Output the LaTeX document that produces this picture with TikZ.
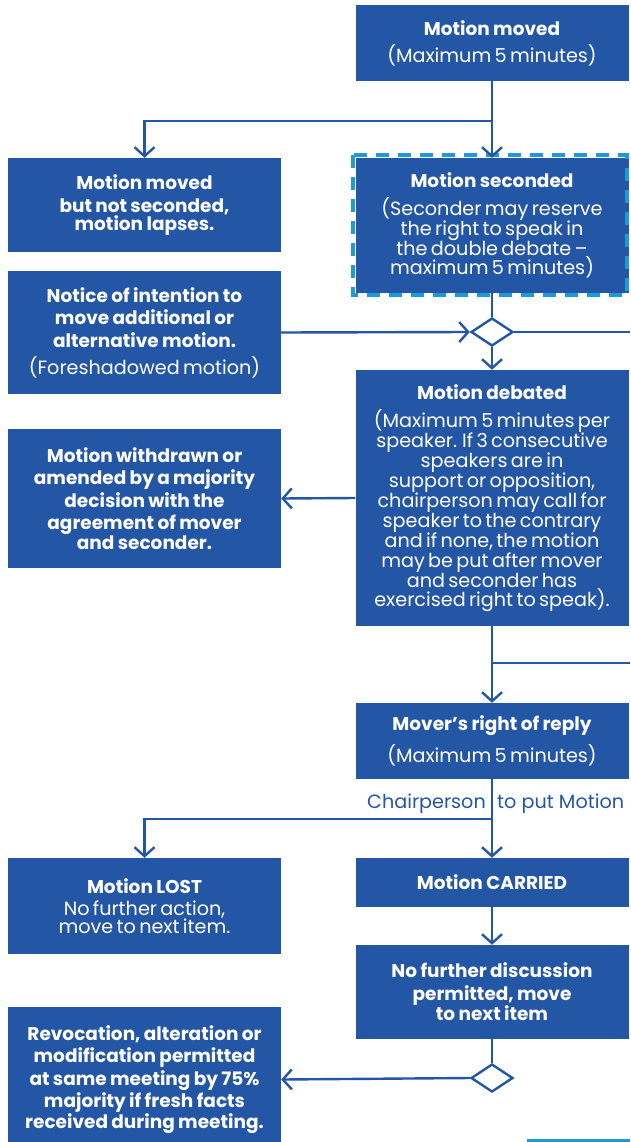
\documentclass[tikz,border=0pt]{standalone}
\usepackage{fontspec}
\setmainfont{Poppins}
\usetikzlibrary{positioning,shapes.geometric,arrows.meta}
\definecolor{mblue}{RGB}{36,86,166}
\definecolor{mcyan}{RGB}{30,155,215}
\newcommand{\headf}{\fontsize{18.5}{22.5}\selectfont\bfseries}
\newcommand{\bodyf}{\fontsize{19.2}{20}\selectfont\mdseries}
\newcommand{\gap}{\par\vspace{8pt}}

\begin{document}
\begin{tikzpicture}[x=1pt, y=-1pt,
  stepbox/.style={fill=mblue, text=white, minimum width=273pt, text width=270pt, align=center, inner sep=0pt},
  gate/.style={diamond, draw=mblue, fill=white, line width=2.4pt, minimum width=42pt, minimum height=28pt, inner sep=0pt},
  flow/.style={draw=mblue, line width=2.4pt, -{Straight Barb[length=9pt,width=20pt]}},
  link/.style={draw=mblue, line width=2.4pt}]
\useasboundingbox (0,0) rectangle (630,1142);

% right column
\node[stepbox, minimum height=76pt]  (moved)     at (492,43)    {\headf Motion moved\gap\bodyf (Maximum 5 minutes)};
\node[stepbox, minimum height=135pt] (seconded)  at (492,225.5) {\headf Motion seconded\gap\bodyf (Seconder may reserve\\ the right to speak in\\ the double debate --\\ maximum 5 minutes)};
\node[gate]                          (dia1)      at (492,332)   {};
\node[stepbox, minimum height=256pt] (debated)   at (492,498)   {\headf Motion debated\gap\bodyf (Maximum 5 minutes per\\ speaker. If 3 consecutive\\ speakers are in\\ support or opposition,\\ chairperson may call for\\ speaker to the contrary\\ and if none, the motion\\ may be put after mover\\ and seconder has\\ exercised right to speak).};
\node[stepbox, minimum height=76pt]  (mover)     at (492,741)   {\headf Mover’s right of reply\gap\bodyf (Maximum 5 minutes)};
\node[stepbox, minimum height=49pt]  (carried)   at (492,882.5) {\headf Motion CARRIED};
\node[stepbox, minimum height=94pt]  (nofurther) at (492,992)   {\headf No further discussion\\ permitted, move\\ to next item};
\node[gate]                          (dia2)      at (492,1078)  {};

% left column
\node[stepbox, minimum height=94pt]  (notsec)    at (144.5,205)   {\headf Motion moved\\ but not seconded,\\ motion lapses.};
\node[stepbox, minimum height=123pt] (notice)    at (144.5,332.5) {\headf Notice of intention to\\ move additional or\\ alternative motion.\gap\bodyf (Foreshadowed motion)};
\node[stepbox, minimum height=139pt] (withdrawn) at (144.5,498.5) {\headf Motion withdrawn or\\ amended by a majority\\ decision with the\\ agreement of mover\\ and seconder.};
\node[stepbox, minimum height=96pt]  (lost)      at (144.5,906)   {\headf Motion LOST\par\vspace{2pt}\bodyf No further action,\\ move to next item.};
\node[stepbox, minimum height=145pt] (revoc)     at (144.5,1079.5){\headf Revocation, alteration or\\ modification permitted\\ at same meeting by 75\%\\ majority if fresh facts\\ received during meeting.};

% dashed frame round the seconded box
\draw[mcyan, line width=4pt, dash pattern=on 13pt off 9pt] (353,155) rectangle (627,295);

% free ends and branch points
\coordinate (split1) at (492,121);
\coordinate (edge1)  at (630,332);
\coordinate (split2) at (492,663);
\coordinate (edge2)  at (630,663);
\coordinate (split3) at (492,819);

% connectors
\draw[flow] (moved) -- (seconded.north);
\draw[flow] (split1) -| (notsec.north);
\draw[link] (seconded.south) -- (dia1.north);
\draw[flow] (notice.east) -- (dia1.west);
\draw[link] (dia1.east) -- (edge1);
\draw[flow] (dia1.south) -- (debated.north);
\draw[flow] (debated.west) -- (withdrawn.east);
\draw[flow] (debated.south) -- (mover.north);
\draw[link] (split2) -- (edge2);
\draw[flow] (mover.south) -- (carried.north);
\draw[flow] (split3) -| (lost.north);
\draw[flow] (carried.south) -- (nofurther.north);
\draw[link] (nofurther.south) -- (dia2.north);
\draw[flow] (dia2.west) -- (revoc.east);

% label on the split
\node[text=mblue, anchor=east, inner sep=0pt, font=\bodyf] (chair) at (486,804) {Chairperson};
\node[text=mblue, anchor=west, inner sep=0pt, font=\bodyf] (put)   at (497,804) {to put Motion};

\fill[mcyan] (527,1139) rectangle (630,1142);
\end{tikzpicture}
\end{document}
